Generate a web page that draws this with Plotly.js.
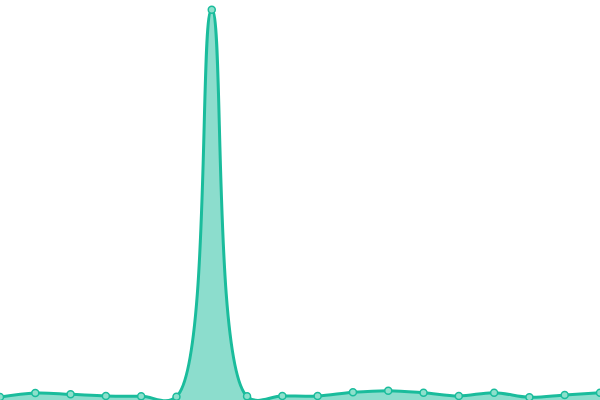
<!DOCTYPE html>
<html>
<head>
<meta charset="utf-8">
<script src="https://cdn.plot.ly/plotly-3.0.1.min.js"></script>
<style>
  html, body { margin: 0; padding: 0; background: #fff; }
  #chart { width: 600px; height: 400px; }
</style>
</head>
<body>
<div id="chart"></div>
<script>
// data
const xIndex = [0, 1, 2, 3, 4, 5, 6, 7, 8, 9, 10, 11, 12, 13, 14, 15, 16, 17];
const values = [0.77, 1.8, 1.46, 1.03, 0.95, 0.85, 100, 0.95, 1.03, 1.03, 1.97, 2.38, 1.87, 1.03, 1.87, 0.69, 1.28, 1.87];

var data = [
  {
    x: xIndex,
    y: values,
    type: 'scatter',
    mode: 'lines+markers',
    line: { shape: 'spline', smoothing: 1.05, color: '#1abc9c', width: 3 },
    fill: 'tozeroy',
    fillcolor: 'rgba(26,188,156,0.5)',
    marker: {
      size: 7,
      color: '#8de0cc',
      line: { color: '#1abc9c', width: 1.5 }
    },
    cliponaxis: false,
    hoverinfo: 'none'
  }
];

var layout = {
  width: 600,
  height: 400,
  margin: { l: 0, r: 0, t: 0, b: 0, pad: 0 },
  paper_bgcolor: '#fff',
  plot_bgcolor: '#fff',
  showlegend: false,
  xaxis: { range: [0, 17], visible: false, fixedrange: true },
  yaxis: { range: [0, 102.5], visible: false, fixedrange: true }
};

var config = { staticPlot: true, displayModeBar: false };

Plotly.newPlot('chart', data, layout, config);
</script>
</body>
</html>
